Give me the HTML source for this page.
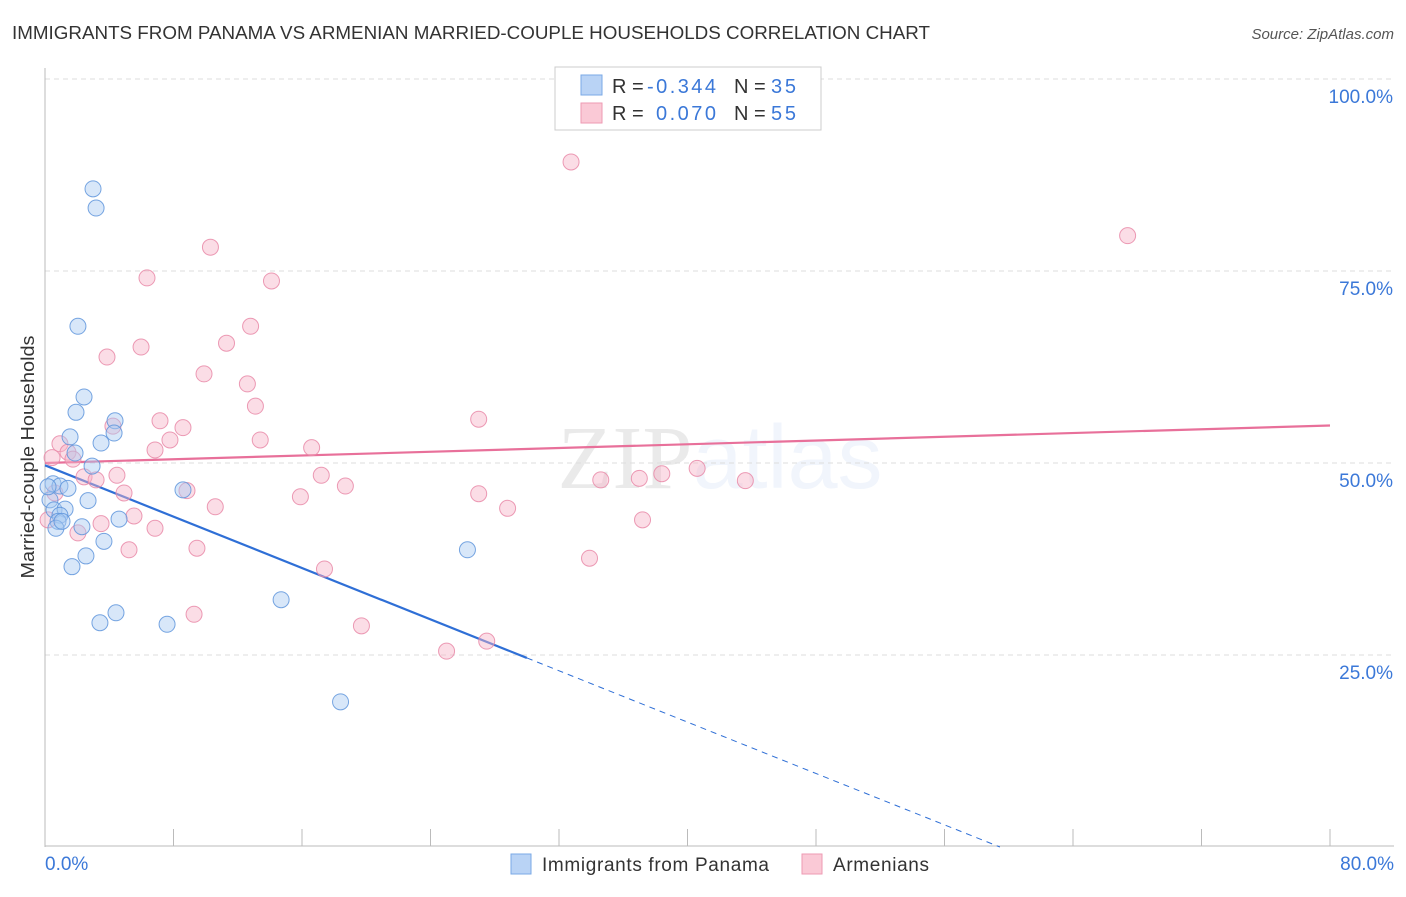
<!DOCTYPE html>
<html><head><meta charset="utf-8"><style>
body{margin:0;background:#fff;font-family:"Liberation Sans",sans-serif;}
svg text{font-family:"Liberation Sans",sans-serif;}
</style></head><body>
<svg id="chart" width="1406" height="892" xmlns="http://www.w3.org/2000/svg">
<text x="12" y="39" font-size="18" fill="#333" textLength="918" lengthAdjust="spacingAndGlyphs">IMMIGRANTS FROM PANAMA VS ARMENIAN MARRIED-COUPLE HOUSEHOLDS CORRELATION CHART</text>
<text x="1394" y="39" font-size="15" fill="#555" text-anchor="end" font-style="italic">Source: ZipAtlas.com</text>
<text x="720" y="488" font-size="90" text-anchor="middle" fill="#000" opacity="0.08"><tspan font-family="Liberation Serif">ZIP</tspan><tspan fill="#3b78d8" opacity="0.9" font-weight="normal">atlas</tspan></text>
<g id="grid"></g>
<g id="axes"></g>
<g id="lines"></g>
<g id="points"></g>
<text transform="translate(34,457) rotate(-90)" font-size="18" fill="#333" text-anchor="middle" textLength="243" lengthAdjust="spacingAndGlyphs">Married-couple Households</text>
<g>
<rect x="555" y="67" width="266" height="63" fill="#fff" stroke="#ccc"/>
<rect x="581" y="75" width="21" height="20" fill="#b9d3f5" stroke="#7aa8e6"/>
<rect x="581" y="103" width="21" height="20" fill="#fac9d6" stroke="#ee9ab3"/>
<text x="612" y="93" font-size="20" fill="#333">R =</text>
<text x="647" y="93" font-size="20" fill="#3b78d8" textLength="69">-0.344</text>
<text x="734" y="93" font-size="20" fill="#333">N =</text>
<text x="771" y="93" font-size="20" fill="#3b78d8" textLength="25">35</text>
<text x="612" y="120" font-size="20" fill="#333">R =</text>
<text x="656" y="120" font-size="20" fill="#3b78d8" textLength="60">0.070</text>
<text x="734" y="120" font-size="20" fill="#333">N =</text>
<text x="771" y="120" font-size="20" fill="#3b78d8" textLength="25">55</text>
</g>
<g>
<rect x="511" y="854" width="20" height="20" fill="#b9d3f5" stroke="#7aa8e6"/>
<text x="542" y="871" font-size="19" fill="#333" textLength="227">Immigrants from Panama</text>
<rect x="802" y="854" width="20" height="20" fill="#fac9d6" stroke="#ee9ab3"/>
<text x="833" y="871" font-size="19" fill="#333" textLength="96">Armenians</text>
</g>
</svg>
<script>
const yTicks=[25,50,75,100];
const yTickLabels=["25.0%","50.0%","75.0%","100.0%"];
const xTickLabels=["0.0%","80.0%"];
const panamaX=[2.99,3.18,2.05,2.43,1.93,1.56,4.36,4.30,3.49,1.87,2.93,0.50,0.93,1.43,0.31,2.68,0.56,1.25,0.93,0.81,4.61,2.30,0.68,3.67,2.55,1.68,4.42,3.42,7.60,8.59,14.7,26.3,18.4,0.19,1.06];
const panamaY=[85.7,83.2,67.8,58.6,56.6,53.4,55.5,53.9,52.6,51.3,49.6,47.3,47.0,46.7,45.2,45.1,43.9,44.0,43.2,42.4,42.7,41.7,41.5,39.8,37.9,36.5,30.5,29.2,29.0,46.5,32.2,38.7,18.9,46.9,42.4];
const armX=[32.75,67.4,10.3,6.35,14.1,12.8,5.98,11.3,3.86,9.9,12.6,13.1,7.16,27.0,8.59,4.23,7.78,13.4,6.85,16.6,0.93,1.43,0.44,1.74,40.6,38.4,4.48,37.0,34.6,17.2,2.43,3.18,43.6,18.7,8.84,4.92,15.9,27.0,0.62,10.6,28.8,5.54,37.2,3.49,6.85,2.05,9.46,5.23,33.9,17.4,9.28,19.7,27.5,25.0,0.19];
const armY=[89.2,79.6,78.1,74.1,73.7,67.8,65.1,65.6,63.8,61.6,60.3,57.4,55.5,55.7,54.6,54.8,53.0,53.0,51.7,52.0,52.5,51.4,50.7,50.5,49.3,48.6,48.4,48.0,47.8,48.4,48.2,47.8,47.7,47.0,46.4,46.1,45.6,46.0,46.1,44.3,44.1,43.1,42.6,42.1,41.5,40.9,38.9,38.7,37.6,36.2,30.3,28.8,26.8,25.5,42.6];
const panamaTrend=[49.7,-0.836];
const armTrend=[50.0,0.061];
const NS="http://www.w3.org/2000/svg";
const X=v=>45+v*(1285/80);
const Y=v=>847-v*7.68;
function mk(tag,attrs,parent){const e=document.createElementNS(NS,tag);for(const k in attrs)e.setAttribute(k,attrs[k]);parent.appendChild(e);return e;}
const grid=document.getElementById('grid'),axes=document.getElementById('axes'),lines=document.getElementById('lines'),pts=document.getElementById('points');
yTicks.forEach((t,i)=>{
 const l=mk('line',{x1:45,x2:1394,y1:Y(t),y2:Y(t),stroke:'#ddd','stroke-dasharray':'5,4'},grid);
 
 
 const tx=mk('text',{x:1393,y:Y(t)+24,'font-size':19,fill:'#3b78d8','text-anchor':'end'},axes);
 tx.textContent=yTickLabels[i];
 
 
});
mk('line',{x1:45,x2:45,y1:68,y2:847,stroke:'#bbb'},axes);
mk('line',{x1:45,x2:1394,y1:846,y2:846,stroke:'#bbb'},axes);
for(let i=0;i<=10;i++){const t=mk('line',{x1:X(i*8),x2:X(i*8),y1:829,y2:846,stroke:'#bbb'},axes);
 
 }
[[0,45,'start'],[80,1394,'end']].forEach((d,i)=>{const t=mk('text',{x:d[1],y:870,'font-size':19,fill:'#3b78d8','text-anchor':d[2]},axes);t.textContent=xTickLabels[i];
 
 });
function draw(xs,ys,fill,stroke,name){xs.forEach((x,i)=>{const c=mk('circle',{cx:X(x),cy:Y(ys[i]),r:8,fill:fill,'fill-opacity':0.45,stroke:stroke,'stroke-width':1,'stroke-opacity':0.85},pts);
 
 });}
draw(armX,armY,'#f6b3c7','#e98aa8','armenians-point');
draw(panamaX,panamaY,'#a9c9f2','#5f95dc','panama-point');
const pl=mk('line',{x1:X(0),y1:Y(panamaTrend[0]),x2:X(30),y2:Y(panamaTrend[0]+30*panamaTrend[1]),stroke:'#2f6fd6','stroke-width':2.2},lines);


const xz=-panamaTrend[0]/panamaTrend[1];
const pd=mk('line',{x1:X(30),y1:Y(panamaTrend[0]+30*panamaTrend[1]),x2:X(xz),y2:Y(0),stroke:'#2f6fd6','stroke-width':1,'stroke-dasharray':'6,5'},lines);


const al=mk('line',{x1:X(0),y1:Y(armTrend[0]),x2:X(80),y2:Y(armTrend[0]+80*armTrend[1]),stroke:'#e8709a','stroke-width':2.2},lines);


</script>
</body></html>
